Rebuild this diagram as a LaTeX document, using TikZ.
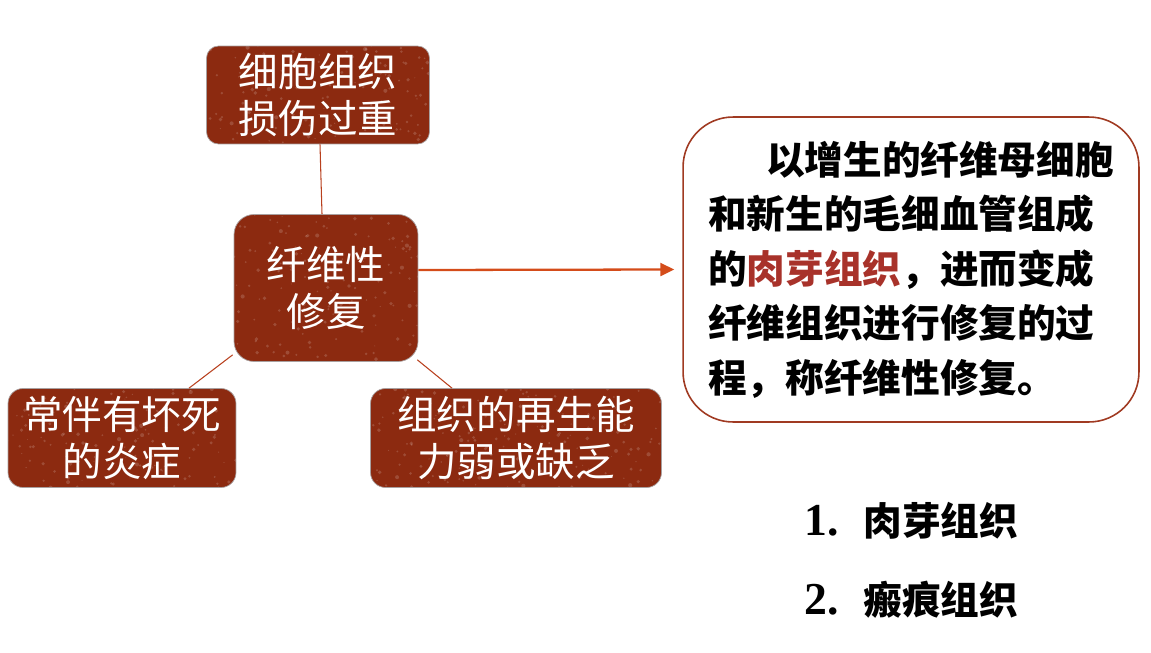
\documentclass[tikz,border=0pt]{standalone}
\usepackage{fontspec}
\setmainfont{Liberation Serif}
\newfontfamily\cjk{Noto Sans CJK SC}
\usetikzlibrary{arrows.meta}
\definecolor{rust}{HTML}{8C2A10}
\definecolor{rustedge}{HTML}{A8A0A0}
\definecolor{linkred}{HTML}{B8401E}
\definecolor{arrowred}{HTML}{D44C1A}
\definecolor{descline}{HTML}{A03A22}
\definecolor{keyred}{HTML}{A8322A}

\begin{document}
\begin{tikzpicture}[x=0.02cm,y=-0.02cm]
	\tikzset{tissue/.style={fill=rust,draw=rustedge,line width=0.4pt,text=white,align=center,inner sep=0pt,
			font=\cjk\fontsize{22.5}{27}\selectfont,
			path picture={\foreach \k in {1,...,260}{\pgfmathsetmacro\r{0.3+0.9*rnd}
					\fill[white,opacity=0.16] (path picture bounding box.center) ++(rand*150,rand*80) circle (\r pt);}}},
		link/.style={linkred,line width=0.6pt}}
	\pgfmathsetseed{7}
	\useasboundingbox (0,0) rectangle (1151,652);
	% the four brown boxes
	\node[tissue,rounded corners=0.24cm,minimum width=4.46cm,minimum height=1.96cm] (cause) at (318,95) {细胞组织\\损伤过重};
	\node[tissue,rounded corners=0.4cm,minimum width=3.68cm,minimum height=2.94cm] (mid) at (326,288) {纤维性\\修复};
	\node[tissue,rounded corners=0.3cm,minimum width=4.56cm,minimum height=1.98cm] (necro) at (122,438) {常伴有坏死\\的炎症};
	\node[tissue,rounded corners=0.3cm,minimum width=5.82cm,minimum height=1.98cm] (weak) at (516,438) {组织的再生能\\力弱或缺乏};
	% definition box
	\node[draw=descline,line width=0.9pt,rounded corners=1cm,minimum width=9.12cm,minimum height=6.1cm,
		align=left,inner sep=0pt,font=\cjk\bfseries\fontsize{22}{31}\selectfont] (desc) at (911,269.5)
		{\hspace*{1.5em}以增生的纤维母细胞\\和新生的毛细血管组成\\的\textcolor{keyred}{肉芽组织}，进而变成\\纤维组织进行修复的过\\程，称纤维性修复。};
	\node[anchor=west,font=\cjk\bfseries\fontsize{22}{27}\selectfont] (itemA) at (798,521) {{\rmfamily\bfseries\fontsize{26}{27}\selectfont 1.}\hspace{0.5cm}肉芽组织};
	\node[anchor=west,font=\cjk\bfseries\fontsize{22}{27}\selectfont] (itemB) at (798,600) {{\rmfamily\bfseries\fontsize{26}{27}\selectfont 2.}\hspace{0.5cm}瘢痕组织};
	% connectors
	\draw[link] ([shift={(2,0)}]cause.south) -- ([shift={(-4,0)}]mid.north);
	\draw[link] ([shift={(-1,-7)}]mid.south west) -- ([shift={(67,0)}]necro.north);
	\draw[link] ([shift={(-1,-2)}]mid.south east) -- ([shift={(-64,0)}]weak.north);
	\draw[arrowred,line width=1.3pt,-{Triangle[length=0.28cm,width=0.26cm]}] ([shift={(0,-18)}]mid.east) -- ([shift={(-8,0)}]desc.west);
\end{tikzpicture}
\end{document}
